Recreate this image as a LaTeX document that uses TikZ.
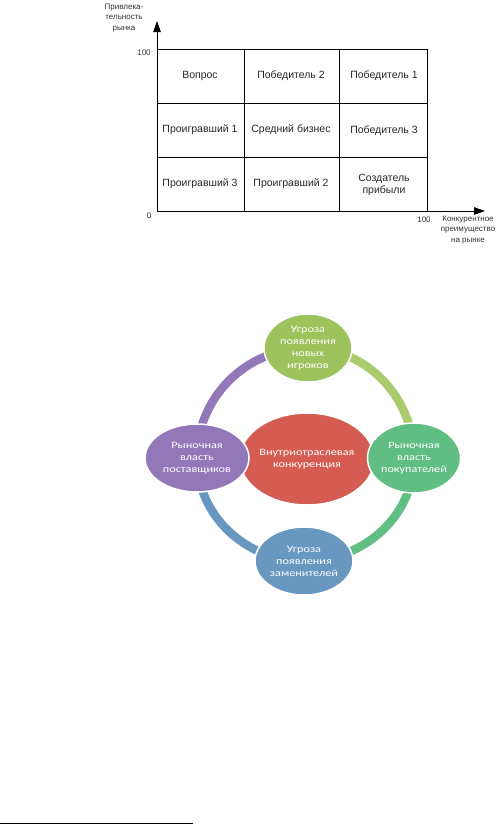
\documentclass[tikz,border=0pt]{standalone}
\usepackage{fontspec}
\setmainfont{Liberation Sans}
\newfontfamily\smartfont[FakeStretch=1.25]{Carlito}
\usetikzlibrary{arrows.meta,positioning,shapes.geometric,backgrounds}
\definecolor{forceolive}{RGB}{156,195,92}
\definecolor{forcered}{RGB}{213,92,82}
\definecolor{forcegreen}{RGB}{96,190,130}
\definecolor{forceblue}{RGB}{104,152,192}
\definecolor{forcepurple}{RGB}{146,120,185}
\definecolor{ringolive}{RGB}{170,204,108}

\begin{document}
\begin{tikzpicture}[x=1pt,y=-1pt,>={Triangle[length=11pt,width=7.5pt]},
 cell/.style={font=\fontsize{10.5}{12.5}\selectfont,align=center,text=black!85},
 tick/.style={font=\fontsize{8}{9}\selectfont,text=black!80},
 axistitle/.style={font=\fontsize{8}{10.5}\selectfont,align=center,text=black!80},
 force/.style={ellipse,draw=white,line width=1.5pt,text=white,inner sep=0pt,
  font=\smartfont\fontsize{9.8}{12}\selectfont,align=center},
 ring/.style={line width=8.5pt}]
 \useasboundingbox (0,0) rectangle (503,825);
 % matrix of the market
 \coordinate (o) at (157,211);
 \coordinate (ytip) at (157,21);
 \coordinate (xtip) at (485,211);
 \draw[line width=.9pt] (157,49) -| (427,211);
 \foreach \x in {244,339} {\draw[line width=.9pt] (\x,49) -- (\x,211);}
 \foreach \y in {103,157} {\draw[line width=.9pt] (157,\y) -- (427,\y);}
 \draw[->,line width=.9pt] (o) -- (ytip);
 \draw[->,line width=.9pt] (o) -- (xtip);
 \node[cell] (question) at (200,76) {Вопрос};
 \node[cell] (winner2) at (291,76) {Победитель 2};
 \node[cell] (winner1) at (384,76) {Победитель 1};
 \node[cell] (loser1) at (200,130) {Проигравший 1};
 \node[cell] (middle) at (291,130) {Средний бизнес};
 \node[cell] (winner3) at (384,131) {Победитель 3};
 \node[cell] (loser3) at (200,184) {Проигравший 3};
 \node[cell] (loser2) at (291,184) {Проигравший 2};
 \node[cell] (profit) at (384,185) {Создатель\\прибыли};
 \node[tick] (ymax) at (144,53) {100};
 \node[tick] (zero) at (149,216) {0};
 \node[tick] (xmax) at (424,220) {100};
 \node[axistitle] (ytitle) at (124,18) {Привлека-\\тельность\\рынка};
 \node[axistitle] (xtitle) at (468,230) {Конкурентное\\преимущество\\на рынке};
 % five forces
 \node[force,fill=forcered,minimum width=126pt,minimum height=92pt] (rivalry) at (307,459)
  {Внутриотраслевая\\конкуренция};
 \node[force,fill=forceolive,minimum width=88pt,minimum height=68pt] (entrants) at (308,348)
  {Угроза\\появления\\новых\\игроков};
 \node[force,fill=forcegreen,minimum width=88pt,minimum height=70pt] (buyers) at (414,458)
  {Рыночная\\власть\\покупателей};
 \node[force,fill=forceblue,minimum width=98pt,minimum height=68pt] (substitutes) at (304,561)
  {Угроза\\появления\\заменителей};
 \node[force,fill=forcepurple,minimum width=104pt,minimum height=68pt] (suppliers) at (197,458)
  {Рыночная\\власть\\поставщиков};
 \begin{scope}[on background layer]
  \draw[ring,ringolive] (entrants.center) to[out=0,in=90] (buyers.center);
  \draw[ring,forcegreen] (buyers.center) to[out=-90,in=0] (substitutes.center);
  \draw[ring,forceblue] (substitutes.center) to[out=180,in=-90] (suppliers.center);
  \draw[ring,forcepurple] (suppliers.center) to[out=90,in=180] (entrants.center);
 \end{scope}
 \draw[line width=.8pt] (0,823) -- (193,823);
\end{tikzpicture}
\end{document}
